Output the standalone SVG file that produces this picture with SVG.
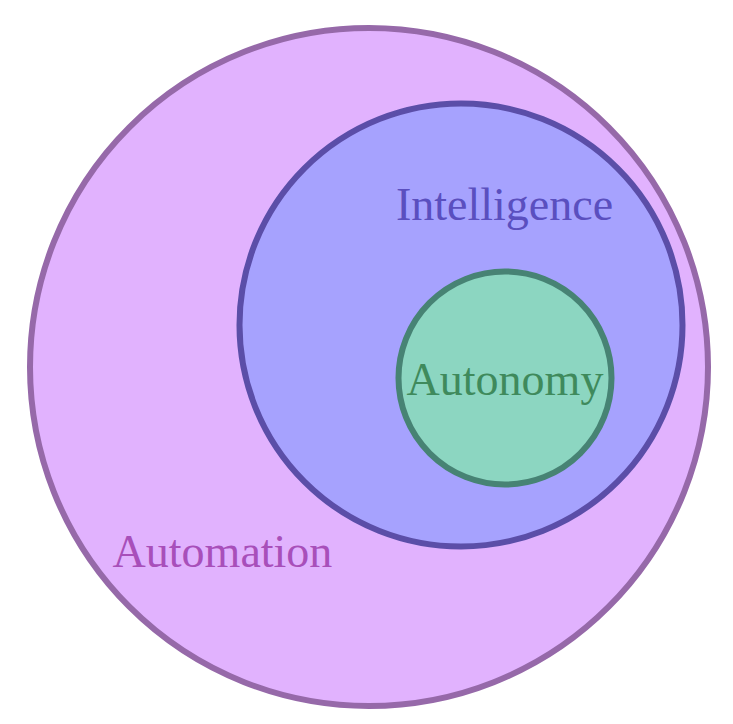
<svg xmlns="http://www.w3.org/2000/svg" width="733" height="724" viewBox="0 0 733 724">
<style>
text{font-family:"Liberation Serif","Times New Roman",serif;font-size:46px;text-anchor:middle}
.c{stroke-width:6}
</style>
<rect width="733" height="724" fill="#ffffff"/>
<g id="automation">
<circle class="c" cx="369" cy="367" r="339" fill="#e1b2fe" stroke="#9669a9"/>
<text x="222.5" y="567" fill="#a84fba">Automation</text>
</g>
<g id="intelligence">
<circle class="c" cx="461" cy="325" r="221.5" fill="#a6a2fe" stroke="#5b4ea8"/>
<text x="504.5" y="220" fill="#5a4fbf">Intelligence</text>
</g>
<g id="autonomy">
<circle class="c" cx="505" cy="378" r="106.5" fill="#8cd6c1" stroke="#478374"/>
<text x="505" y="395" fill="#3f8a5c">Autonomy</text>
</g>
<g id="connectors"/>
</svg>
